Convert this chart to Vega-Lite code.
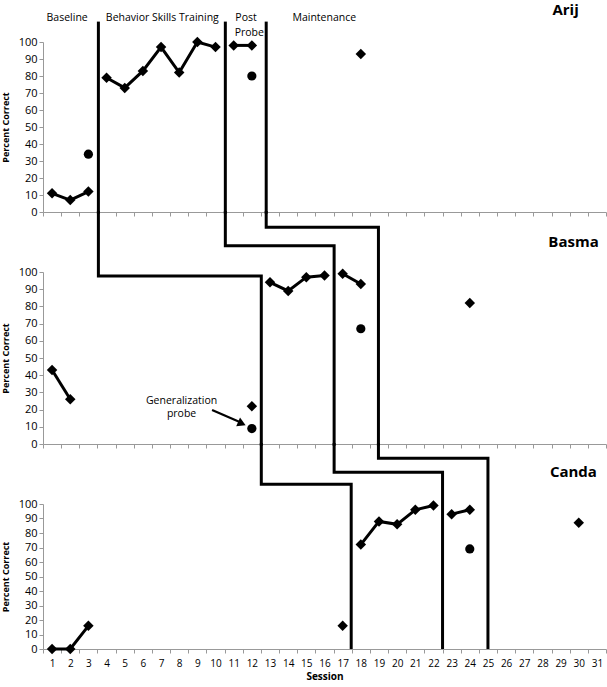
{
  "$schema": "https://vega.github.io/schema/vega-lite/v6.json",
  "background": "white",
  "padding": {"left": 1, "top": 3, "right": 0, "bottom": 0},
  "config": {
    "view": {"stroke": null},
    "font": "Open Sans",
    "axis": {"grid": false, "domainColor": "#999", "tickColor": "#999", "tickSize": 4, "labelColor": "#000", "titleColor": "#000"}
  },
  "datasets": {
    "pts": [
      {"p": "Arij", "s": 1, "v": 11, "type": "Target", "seg": "A1"},
      {"p": "Arij", "s": 2, "v": 7, "type": "Target", "seg": "A1"},
      {"p": "Arij", "s": 3, "v": 12, "type": "Target", "seg": "A1"},
      {"p": "Arij", "s": 3, "v": 34, "type": "Generalization", "seg": null},
      {"p": "Arij", "s": 4, "v": 79, "type": "Target", "seg": "A2"},
      {"p": "Arij", "s": 5, "v": 73, "type": "Target", "seg": "A2"},
      {"p": "Arij", "s": 6, "v": 83, "type": "Target", "seg": "A2"},
      {"p": "Arij", "s": 7, "v": 97, "type": "Target", "seg": "A2"},
      {"p": "Arij", "s": 8, "v": 82, "type": "Target", "seg": "A2"},
      {"p": "Arij", "s": 9, "v": 100, "type": "Target", "seg": "A2"},
      {"p": "Arij", "s": 10, "v": 97, "type": "Target", "seg": "A2"},
      {"p": "Arij", "s": 11, "v": 98, "type": "Target", "seg": "A3"},
      {"p": "Arij", "s": 12, "v": 98, "type": "Target", "seg": "A3"},
      {"p": "Arij", "s": 12, "v": 80, "type": "Generalization", "seg": null},
      {"p": "Arij", "s": 18, "v": 93, "type": "Target", "seg": null},
      {"p": "Basma", "s": 1, "v": 43, "type": "Target", "seg": "B1"},
      {"p": "Basma", "s": 2, "v": 26, "type": "Target", "seg": "B1"},
      {"p": "Basma", "s": 12, "v": 22, "type": "Target", "seg": null},
      {"p": "Basma", "s": 12, "v": 9, "type": "Generalization", "seg": null},
      {"p": "Basma", "s": 13, "v": 94, "type": "Target", "seg": "B2"},
      {"p": "Basma", "s": 14, "v": 89, "type": "Target", "seg": "B2"},
      {"p": "Basma", "s": 15, "v": 97, "type": "Target", "seg": "B2"},
      {"p": "Basma", "s": 16, "v": 98, "type": "Target", "seg": "B2"},
      {"p": "Basma", "s": 17, "v": 99, "type": "Target", "seg": "B3"},
      {"p": "Basma", "s": 18, "v": 93, "type": "Target", "seg": "B3"},
      {"p": "Basma", "s": 18, "v": 67, "type": "Generalization", "seg": null},
      {"p": "Basma", "s": 24, "v": 82, "type": "Target", "seg": null},
      {"p": "Canda", "s": 1, "v": 0, "type": "Target", "seg": "C1"},
      {"p": "Canda", "s": 2, "v": 0, "type": "Target", "seg": "C1"},
      {"p": "Canda", "s": 3, "v": 16, "type": "Target", "seg": "C1"},
      {"p": "Canda", "s": 17, "v": 16, "type": "Target", "seg": null},
      {"p": "Canda", "s": 18, "v": 72, "type": "Target", "seg": "C2"},
      {"p": "Canda", "s": 19, "v": 88, "type": "Target", "seg": "C2"},
      {"p": "Canda", "s": 20, "v": 86, "type": "Target", "seg": "C2"},
      {"p": "Canda", "s": 21, "v": 96, "type": "Target", "seg": "C2"},
      {"p": "Canda", "s": 22, "v": 99, "type": "Target", "seg": "C2"},
      {"p": "Canda", "s": 23, "v": 93, "type": "Target", "seg": "C3"},
      {"p": "Canda", "s": 24, "v": 96, "type": "Target", "seg": "C3"},
      {"p": "Canda", "s": 24, "v": 69, "type": "Generalization", "seg": null},
      {"p": "Canda", "s": 30, "v": 87, "type": "Target", "seg": null}
    ],
    "phase": [
      {"p": "Arij", "line": "a", "o": 1, "s": 3.55, "v": 112},
      {"p": "Arij", "line": "a", "o": 2, "s": 3.55, "v": -1},
      {"p": "Arij", "line": "b", "o": 1, "s": 10.54, "v": 112},
      {"p": "Arij", "line": "b", "o": 2, "s": 10.54, "v": -1},
      {"p": "Arij", "line": "c", "o": 1, "s": 12.79, "v": 112},
      {"p": "Arij", "line": "c", "o": 2, "s": 12.79, "v": -1},
      {"p": "Basma", "line": "a", "o": 1, "s": 3.55, "v": 135.5},
      {"p": "Basma", "line": "a", "o": 2, "s": 3.55, "v": 97.7},
      {"p": "Basma", "line": "a", "o": 3, "s": 12.52, "v": 97.7},
      {"p": "Basma", "line": "a", "o": 4, "s": 12.52, "v": -1},
      {"p": "Basma", "line": "b", "o": 1, "s": 10.54, "v": 135.5},
      {"p": "Basma", "line": "b", "o": 2, "s": 10.54, "v": 115.3},
      {"p": "Basma", "line": "b", "o": 3, "s": 16.53, "v": 115.3},
      {"p": "Basma", "line": "b", "o": 4, "s": 16.53, "v": -1},
      {"p": "Basma", "line": "c", "o": 1, "s": 12.79, "v": 135.5},
      {"p": "Basma", "line": "c", "o": 2, "s": 12.79, "v": 126},
      {"p": "Basma", "line": "c", "o": 3, "s": 18.97, "v": 126},
      {"p": "Basma", "line": "c", "o": 4, "s": 18.97, "v": -1},
      {"p": "Canda", "line": "a", "o": 1, "s": 12.52, "v": 142},
      {"p": "Canda", "line": "a", "o": 2, "s": 12.52, "v": 113.6},
      {"p": "Canda", "line": "a", "o": 3, "s": 17.47, "v": 113.6},
      {"p": "Canda", "line": "a", "o": 4, "s": 17.47, "v": 0},
      {"p": "Canda", "line": "b", "o": 1, "s": 16.53, "v": 142},
      {"p": "Canda", "line": "b", "o": 2, "s": 16.53, "v": 121.9},
      {"p": "Canda", "line": "b", "o": 3, "s": 22.5, "v": 121.9},
      {"p": "Canda", "line": "b", "o": 4, "s": 22.5, "v": 0},
      {"p": "Canda", "line": "c", "o": 1, "s": 18.97, "v": 142},
      {"p": "Canda", "line": "c", "o": 2, "s": 18.97, "v": 131.5},
      {"p": "Canda", "line": "c", "o": 3, "s": 25.0, "v": 131.5},
      {"p": "Canda", "line": "c", "o": 4, "s": 25.0, "v": 0}
    ],
    "names": [
      {"p": "Arij", "s": 30.0, "v": 115.8, "label": "Arij"},
      {"p": "Basma", "s": 31.1, "v": 114.7, "label": "Basma"},
      {"p": "Canda", "s": 31.0, "v": 118.4, "label": "Canda"}
    ],
    "phaselabels": [
      {"s": 1.83, "v": 112.5, "label": "Baseline"},
      {"s": 7.07, "v": 112.5, "label": "Behavior Skills Training"},
      {"s": 11.68, "v": 112.5, "label": "Post"},
      {"s": 11.86, "v": 103.7, "label": "Probe"},
      {"s": 15.99, "v": 112.5, "label": "Maintenance"}
    ],
    "annot": [
      {"s": 8.13, "v": 23.3, "label": "Generalization"},
      {"s": 8.13, "v": 15.5, "label": "probe"}
    ],
    "arrow": [
      {"o": 1, "s": 9.81, "v": 19.8},
      {"o": 2, "s": 11.3, "v": 12.9}
    ],
    "arrowhead": [
      {"s": 11.45, "v": 11.9}
    ]
  },
  "bounds": "flush",
  "spacing": 60,
  "vconcat": [
    {
      "width": 563,
      "height": 170,
      "encoding": {
        "x": {"field": "s", "type": "quantitative", "scale": {"domain": [0.5, 31.5], "nice": false, "zero": false},
          "axis": {"title": null, "labels": false, "values": [0.5,1.5,2.5,3.5,4.5,5.5,6.5,7.5,8.5,9.5,10.5,11.5,12.5,13.5,14.5,15.5,16.5,17.5,18.5,19.5,20.5,21.5,22.5,23.5,24.5,25.5,26.5,27.5,28.5,29.5,30.5,31.5]}},
        "y": {"field": "v", "type": "quantitative", "scale": {"domain": [0, 100], "nice": false, "zero": false},
          "axis": {"title": "Percent Correct", "values": [0,10,20,30,40,50,60,70,80,90,100], "labelFontSize": 11, "labelPadding": 2, "titleFontSize": 9, "titleFontWeight": "bold", "titlePadding": 8}}
      },
      "layer": [
        {"data": {"name": "pts"}, "transform": [{"filter": "datum.p == 'Arij' && datum.seg != null"}],
          "mark": {"type": "line", "color": "black", "strokeWidth": 3}, "encoding": {"detail": {"field": "seg"}}},
        {"data": {"name": "pts"}, "transform": [{"filter": "datum.p == 'Arij' && datum.type == 'Target'"}],
          "mark": {"type": "point", "shape": "diamond", "filled": true, "color": "black", "size": 110, "opacity": 1}},
        {"data": {"name": "pts"}, "transform": [{"filter": "datum.p == 'Arij' && datum.type == 'Generalization'"}],
          "mark": {"type": "point", "shape": "circle", "filled": true, "color": "black", "size": 85, "opacity": 1}},
        {"data": {"name": "phase"}, "transform": [{"filter": "datum.p == 'Arij'"}],
          "mark": {"type": "line", "color": "black", "strokeWidth": 3, "strokeJoin": "miter"},
          "encoding": {"detail": {"field": "line"}, "order": {"field": "o", "type": "quantitative"}}},
        {"data": {"name": "names"}, "transform": [{"filter": "datum.p == 'Arij'"}],
          "mark": {"type": "text", "align": "right", "baseline": "alphabetic", "fontSize": 15, "fontWeight": "bold", "color": "black"},
          "encoding": {"text": {"field": "label"}}},
        {"data": {"name": "phaselabels"},
          "mark": {"type": "text", "align": "center", "baseline": "alphabetic", "fontSize": 10.5, "color": "black"},
          "encoding": {"text": {"field": "label"}}}
      ]
    },
    {
      "width": 563,
      "height": 172,
      "encoding": {
        "x": {"field": "s", "type": "quantitative", "scale": {"domain": [0.5, 31.5], "nice": false, "zero": false},
          "axis": {"title": null, "labels": false, "values": [0.5,1.5,2.5,3.5,4.5,5.5,6.5,7.5,8.5,9.5,10.5,11.5,12.5,13.5,14.5,15.5,16.5,17.5,18.5,19.5,20.5,21.5,22.5,23.5,24.5,25.5,26.5,27.5,28.5,29.5,30.5,31.5]}},
        "y": {"field": "v", "type": "quantitative", "scale": {"domain": [0, 100], "nice": false, "zero": false},
          "axis": {"title": "Percent Correct", "values": [0,10,20,30,40,50,60,70,80,90,100], "labelFontSize": 11, "labelPadding": 2, "titleFontSize": 9, "titleFontWeight": "bold", "titlePadding": 8}}
      },
      "layer": [
        {"data": {"name": "pts"}, "transform": [{"filter": "datum.p == 'Basma' && datum.seg != null"}],
          "mark": {"type": "line", "color": "black", "strokeWidth": 3}, "encoding": {"detail": {"field": "seg"}}},
        {"data": {"name": "pts"}, "transform": [{"filter": "datum.p == 'Basma' && datum.type == 'Target'"}],
          "mark": {"type": "point", "shape": "diamond", "filled": true, "color": "black", "size": 110, "opacity": 1}},
        {"data": {"name": "pts"}, "transform": [{"filter": "datum.p == 'Basma' && datum.type == 'Generalization'"}],
          "mark": {"type": "point", "shape": "circle", "filled": true, "color": "black", "size": 85, "opacity": 1}},
        {"data": {"name": "phase"}, "transform": [{"filter": "datum.p == 'Basma'"}],
          "mark": {"type": "line", "color": "black", "strokeWidth": 3, "strokeJoin": "miter"},
          "encoding": {"detail": {"field": "line"}, "order": {"field": "o", "type": "quantitative"}}},
        {"data": {"name": "names"}, "transform": [{"filter": "datum.p == 'Basma'"}],
          "mark": {"type": "text", "align": "right", "baseline": "alphabetic", "fontSize": 15, "fontWeight": "bold", "color": "black"},
          "encoding": {"text": {"field": "label"}}},
        {"data": {"name": "annot"},
          "mark": {"type": "text", "align": "center", "baseline": "alphabetic", "fontSize": 10.5, "color": "black"},
          "encoding": {"text": {"field": "label"}}},
        {"data": {"name": "arrow"},
          "mark": {"type": "line", "color": "black", "strokeWidth": 2.2},
          "encoding": {"order": {"field": "o", "type": "quantitative"}}},
        {"data": {"name": "arrowhead"},
          "mark": {"type": "point", "shape": "triangle-right", "angle": 24, "filled": true, "color": "black", "size": 90, "opacity": 1}}
      ]
    },
    {
      "width": 563,
      "height": 145,
      "encoding": {
        "x": {"field": "s", "type": "quantitative", "scale": {"domain": [0.5, 31.5], "nice": false, "zero": false},
          "axis": {"title": "Session", "titleFontSize": 10, "titleFontWeight": "bold", "titlePadding": 3,
            "labelFontSize": 10, "labelPadding": 5, "labelOverlap": false, "labelFlush": false,
            "labelExpr": "datum.value % 1 == 0 ? '' + datum.value : ''",
            "tickOpacity": {"condition": {"test": "datum.value % 1 == 0", "value": 0}, "value": 1},
            "values": [0.5,1,1.5,2,2.5,3,3.5,4,4.5,5,5.5,6,6.5,7,7.5,8,8.5,9,9.5,10,10.5,11,11.5,12,12.5,13,13.5,14,14.5,15,15.5,16,16.5,17,17.5,18,18.5,19,19.5,20,20.5,21,21.5,22,22.5,23,23.5,24,24.5,25,25.5,26,26.5,27,27.5,28,28.5,29,29.5,30,30.5,31,31.5]}},
        "y": {"field": "v", "type": "quantitative", "scale": {"domain": [0, 100], "nice": false, "zero": false},
          "axis": {"title": "Percent Correct", "values": [0,10,20,30,40,50,60,70,80,90,100], "labelFontSize": 11, "labelPadding": 2, "titleFontSize": 9, "titleFontWeight": "bold", "titlePadding": 8}}
      },
      "layer": [
        {"data": {"name": "pts"}, "transform": [{"filter": "datum.p == 'Canda' && datum.seg != null"}],
          "mark": {"type": "line", "color": "black", "strokeWidth": 3}, "encoding": {"detail": {"field": "seg"}}},
        {"data": {"name": "pts"}, "transform": [{"filter": "datum.p == 'Canda' && datum.type == 'Target'"}],
          "mark": {"type": "point", "shape": "diamond", "filled": true, "color": "black", "size": 110, "opacity": 1}},
        {"data": {"name": "pts"}, "transform": [{"filter": "datum.p == 'Canda' && datum.type == 'Generalization'"}],
          "mark": {"type": "point", "shape": "circle", "filled": true, "color": "black", "size": 85, "opacity": 1}},
        {"data": {"name": "phase"}, "transform": [{"filter": "datum.p == 'Canda'"}],
          "mark": {"type": "line", "color": "black", "strokeWidth": 3, "strokeJoin": "miter"},
          "encoding": {"detail": {"field": "line"}, "order": {"field": "o", "type": "quantitative"}}},
        {"data": {"name": "names"}, "transform": [{"filter": "datum.p == 'Canda'"}],
          "mark": {"type": "text", "align": "right", "baseline": "alphabetic", "fontSize": 15, "fontWeight": "bold", "color": "black"},
          "encoding": {"text": {"field": "label"}}}
      ]
    }
  ]
}
